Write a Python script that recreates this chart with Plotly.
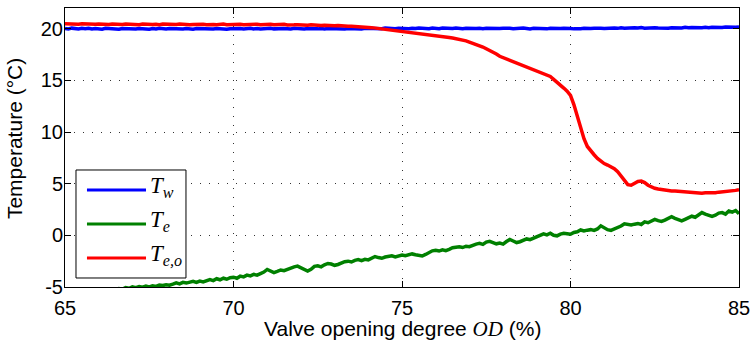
import numpy as np
import plotly.graph_objects as go

# Valve opening degree OD (%), sampled every 0.1 %
od = np.round(np.linspace(65.0, 85.0, 201), 1)

# Water temperature T_w (°C)
t_w = [
    20.02, 19.98, 20.05, 20.00, 19.96, 20.03, 19.99, 20.04, 19.97, 20.01,
    20.00, 19.95, 20.03, 19.99, 20.02, 19.97, 19.94, 20.01, 19.98, 20.03,
    19.99, 19.96, 20.02, 19.98, 20.00, 19.95, 20.01, 19.97, 20.03, 19.98,
    19.96, 20.01, 19.99, 19.94, 20.00, 19.97, 20.02, 19.98, 19.95, 20.01,
    19.99, 20.03, 19.97, 20.00, 19.96, 20.02, 19.98, 20.01, 19.95, 20.00,
    20.03, 19.98, 20.01, 19.96, 20.00, 20.04, 19.98, 20.02, 19.97, 20.01,
    19.99, 20.03, 19.98, 20.01, 19.96, 20.02, 20.00, 19.97, 20.03, 19.99,
    20.01, 19.97, 20.02, 19.99, 20.04, 19.98, 20.01, 19.96, 20.02, 20.00,
    19.98, 20.03, 20.00, 19.96, 20.02, 19.99, 20.04, 20.00, 19.97, 20.03,
    20.01, 20.05, 19.99, 20.03, 20.00, 20.06, 20.01, 20.04, 19.99, 20.05,
    20.02, 20.06, 20.00, 20.04, 20.01, 20.07, 20.02, 20.05, 20.00, 20.06,
    20.03, 20.00, 20.06, 20.02, 20.05, 20.01, 20.07, 20.03, 20.00, 20.05,
    20.02, 20.06, 20.01, 20.04, 20.00, 20.05, 20.03, 19.99, 20.04, 20.01,
    20.05, 20.00, 20.03, 19.99, 20.04, 20.01, 20.06, 20.02, 19.98, 20.03,
    20.00, 20.04, 20.01, 19.98, 20.03, 20.00, 20.05, 20.01, 20.04, 19.99,
    20.02, 19.98, 20.03, 20.00, 20.04, 19.99, 20.02, 20.05, 20.00, 20.03,
    20.01, 20.05, 20.02, 20.06, 20.03, 20.08, 20.04, 20.07, 20.05, 20.09,
    20.06, 20.10, 20.05, 20.08, 20.04, 20.09, 20.06, 20.03, 20.08, 20.05,
    20.09, 20.06, 20.11, 20.07, 20.13, 20.08, 20.12, 20.09, 20.14, 20.10,
    20.13, 20.09, 20.14, 20.11, 20.15, 20.12, 20.16, 20.13, 20.17, 20.14,
    20.16,
]

# Evaporation temperature T_e (°C)
t_e = [
    -5.90, -5.85, -5.80, -5.82, -5.75, -5.70, -5.72, -5.65, -5.60, -5.62,
    -5.55, -5.50, -5.48, -5.42, -5.38, -5.33, -5.15, -5.22, -5.05, -5.12,
    -4.98, -5.06, -4.95, -5.02, -4.92, -4.99, -4.88, -4.95, -4.82, -4.86,
    -4.78, -4.83, -4.72, -4.60, -4.70, -4.55, -4.62, -4.50, -4.45, -4.55,
    -4.42, -4.50, -4.35, -4.28, -4.38, -4.20, -4.30, -4.15, -4.25, -4.10,
    -4.05, -4.15, -3.95, -4.02, -3.85, -3.92, -3.78, -3.85, -3.70, -3.55,
    -3.30, -3.42, -3.60, -3.48, -3.35, -3.42, -3.28, -3.20, -3.05, -2.98,
    -3.12, -3.30, -3.45, -3.28, -3.00, -2.95, -3.05, -2.85, -2.72, -2.78,
    -2.90, -2.82, -2.68, -2.55, -2.50, -2.58, -2.42, -2.35, -2.45, -2.32,
    -2.38, -2.25, -2.05, -2.15, -2.22, -2.10, -2.02, -1.98, -2.08, -1.95,
    -1.90, -1.98, -1.85, -1.80, -1.88, -1.92, -2.00, -1.85, -1.65, -1.50,
    -1.45, -1.52, -1.40, -1.48, -1.35, -1.20, -1.15, -1.10, -1.18, -1.05,
    -1.10, -0.95, -0.85, -0.78, -0.88, -0.65, -0.58, -0.70, -0.82, -0.75,
    -0.85, -0.60, -0.40, -0.55, -0.70, -0.62, -0.48, -0.35, -0.42, -0.30,
    -0.15, -0.05, 0.15, 0.05, 0.20, 0.00, -0.05, 0.12, 0.20, 0.15,
    0.10, 0.28, 0.35, 0.52, 0.42, 0.50, 0.55, 0.48, 0.62, 0.92,
    0.70, 0.55, 0.48, 0.60, 0.75, 0.90, 1.12, 1.05, 1.00, 1.08,
    1.15, 1.05, 1.30, 1.22, 1.40, 1.55, 1.42, 1.35, 1.48, 1.62,
    1.80, 1.65, 1.50, 1.40, 1.55, 1.70, 1.85, 1.75, 2.00, 2.20,
    2.05, 1.90, 1.84, 1.95, 2.15, 2.20, 2.05, 2.35, 2.25, 2.40,
    2.10,
]

# Evaporator outlet temperature T_e,o (°C)
t_eo = [
    20.48, 20.45, 20.50, 20.46, 20.43, 20.47, 20.44, 20.49, 20.45, 20.42,
    20.46, 20.43, 20.47, 20.41, 20.45, 20.42, 20.46, 20.40, 20.44, 20.41,
    20.45, 20.42, 20.39, 20.44, 20.41, 20.46, 20.40, 20.43, 20.39, 20.44,
    20.41, 20.38, 20.43, 20.40, 20.44, 20.39, 20.42, 20.37, 20.41, 20.43,
    20.39, 20.42, 20.38, 20.43, 20.40, 20.37, 20.41, 20.44, 20.39, 20.42,
    20.38, 20.41, 20.43, 20.39, 20.42, 20.37, 20.40, 20.43, 20.38, 20.41,
    20.39, 20.42, 20.37, 20.41, 20.38, 20.42, 20.36, 20.40, 20.37, 20.39,
    20.36, 20.39, 20.34, 20.37, 20.33, 20.36, 20.31, 20.34, 20.30, 20.32,
    20.28, 20.30, 20.26, 20.27, 20.23, 20.24, 20.20, 20.21, 20.17, 20.16,
    20.12, 20.10, 20.06, 20.03, 19.99, 19.96, 19.92, 19.88, 19.85, 19.81,
    19.76, 19.73, 19.69, 19.66, 19.62, 19.58, 19.55, 19.50, 19.46, 19.41,
    19.35, 19.31, 19.26, 19.22, 19.15, 19.09, 19.04, 18.97, 18.90, 18.82,
    18.70, 18.59, 18.47, 18.35, 18.22, 18.05, 17.90, 17.73, 17.55, 17.33,
    17.20, 17.06, 16.95, 16.82, 16.68, 16.58, 16.45, 16.34, 16.21, 16.05,
    15.95, 15.84, 15.70, 15.56, 15.38, 15.10, 14.85, 14.52, 14.25, 13.95,
    13.55, 12.65, 11.45, 10.30, 9.35, 8.60, 8.15, 7.80, 7.45, 7.15,
    6.95, 6.80, 6.65, 6.45, 6.15, 5.75, 5.25, 4.90, 4.85, 5.05,
    5.22, 5.25, 5.10, 4.85, 4.65, 4.55, 4.48, 4.42, 4.38, 4.35,
    4.30, 4.28, 4.25, 4.22, 4.20, 4.18, 4.14, 4.12, 4.10, 4.08,
    4.12, 4.10, 4.15, 4.13, 4.18, 4.20, 4.22, 4.27, 4.30, 4.35,
    4.42,
]

x_ticks = [65, 70, 75, 80, 85]
y_ticks = [-5, 0, 5, 10, 15, 20]
y_tick_text = ["-5", "0", "5", "10", "15", "20"]

series = [
    ("<i>T</i><sub><i>w</i></sub>", t_w, "#0000FF"),
    ("<i>T</i><sub><i>e</i></sub>", t_e, "#008000"),
    ("<i>T</i><sub><i>e,o</i></sub>", t_eo, "#FF0000"),
]

SANS = "Liberation Sans, Arial, sans-serif"
SERIF = "Liberation Serif, Times New Roman, serif"
LW = 3.5

fig = go.Figure()
for name, vals, color in series:
    fig.add_trace(go.Scatter(
        x=od, y=vals, mode="lines", name=name,
        line=dict(color=color, width=LW),
        showlegend=False,
    ))

axis_common = dict(
    showline=True, linecolor="black", linewidth=1, mirror="ticks",
    ticks="inside", ticklen=6, tickcolor="black", tickwidth=1,
    showgrid=True, gridcolor="#333333", gridwidth=1, griddash="1px,8px",
    zeroline=False, ticklabeloverflow="allow", automargin=False,
    tickfont=dict(family=SANS, size=20, color="black"),
)

fig.update_xaxes(range=[65, 85], tickvals=x_ticks,
                 ticktext=[str(v) for v in x_ticks], ticklabelstandoff=3,
                 **axis_common)
fig.update_yaxes(range=[-5, 22], tickvals=y_ticks, ticktext=y_tick_text,
                 ticklabelstandoff=-3, **axis_common)

# Legend box drawn in paper coordinates
shapes = [dict(type="rect", xref="paper", yref="paper",
               x0=0.0163, x1=0.1795, y0=0.0323, y1=0.4194,
               line=dict(color="black", width=1), fillcolor="white", layer="above")]
annotations = []
legend_rows = [0.3477, 0.2258, 0.1039]
for (name, _, color), yy in zip(series, legend_rows):
    shapes.append(dict(type="line", xref="paper", yref="paper",
                       x0=0.0326, x1=0.1202, y0=yy, y1=yy,
                       line=dict(color=color, width=3), layer="above"))
    annotations.append(dict(xref="paper", yref="paper", x=0.1231, y=yy + 0.012,
                            text=name, showarrow=False, xanchor="left", yanchor="middle",
                            font=dict(family=SERIF, size=23, color="black")))

# Axis titles
annotations.append(dict(
    xref="paper", yref="paper", x=0.5, y=-0.1505, xanchor="center", yanchor="middle",
    text="Valve opening degree <span style='font-family:Liberation Serif'><i>OD</i></span> (%)",
    showarrow=False, font=dict(family=SANS, size=21, color="black")))
annotations.append(dict(
    xref="paper", yref="paper", x=-0.0745, y=0.533, xanchor="center", yanchor="middle",
    text="Temperature (°C)", textangle=-90,
    showarrow=False, font=dict(family=SANS, size=21, color="black")))

fig.update_layout(
    width=750, height=343,
    margin=dict(l=65, r=11, t=8, b=56),
    paper_bgcolor="white", plot_bgcolor="white",
    shapes=shapes, annotations=annotations,
    showlegend=False,
)

fig.write_html("out.html")
